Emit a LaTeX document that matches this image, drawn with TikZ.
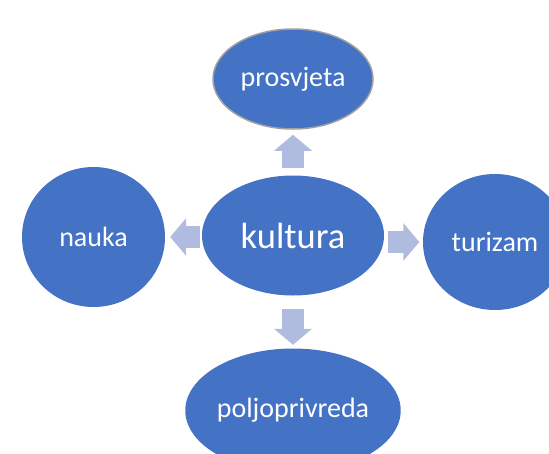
\documentclass[tikz,border=0pt]{standalone}
\usepackage{fontspec}
\setmainfont{Carlito}
\usepackage{xcolor}
\usetikzlibrary{shapes.geometric, arrows.meta}

\definecolor{bubblecolor}{HTML}{4472C4}
\definecolor{arrowcolor}{HTML}{B0BCDF}
\definecolor{rimcolor}{HTML}{A0A0A0}

\tikzset{
  bubble/.style={ellipse, fill=bubblecolor, text=white, inner sep=0pt, font=\fontsize{28}{31}\selectfont},
  blockarrow/.style={draw=arrowcolor, line width=22pt, line cap=butt,
    -{Triangle[width=37pt, length=16pt, fill=arrowcolor]}}
}

\begin{document}
\begin{tikzpicture}[x=1pt, y=-1pt]
        % Fix the page to the reference size
        \useasboundingbox (0,0) rectangle (549,453);
        \clip (0,0) rectangle (549,453);

        % The five ellipses
        \node[bubble, minimum width=182pt, minimum height=120pt, font=\fontsize{36.5}{40}\selectfont] (kultura) at (293,235.5) {kultura};
        \node[bubble, draw=rimcolor, line width=1.5pt, minimum width=160pt, minimum height=100pt] (prosvjeta) at (293,79) {prosvjeta};
        \node[bubble, minimum width=143pt, minimum height=140pt] (nauka) at (93.5,237) {nauka};
        \node[bubble, minimum width=144pt, minimum height=136pt] (turizam) at (495,242) {turizam};
        \node[bubble, minimum width=200pt, minimum height=124pt] (poljoprivreda) at (293,410.5) {poljoprivreda};

        % Block arrows going out from the centre
        \draw[blockarrow, shorten <=7.5pt, shorten >=5pt] (kultura.north) -- (prosvjeta.south);
        \draw[blockarrow, shorten <=13.5pt, shorten >=3.5pt] (kultura.south) -- (poljoprivreda.north);
        \draw[blockarrow, shorten <=2pt, shorten >=5pt] (kultura.west |- nauka) -- (nauka.east);
        \draw[blockarrow, shorten <=4pt, shorten >=3.5pt] (kultura.east |- turizam) -- (turizam.west);

    \end{tikzpicture}
\end{document}
